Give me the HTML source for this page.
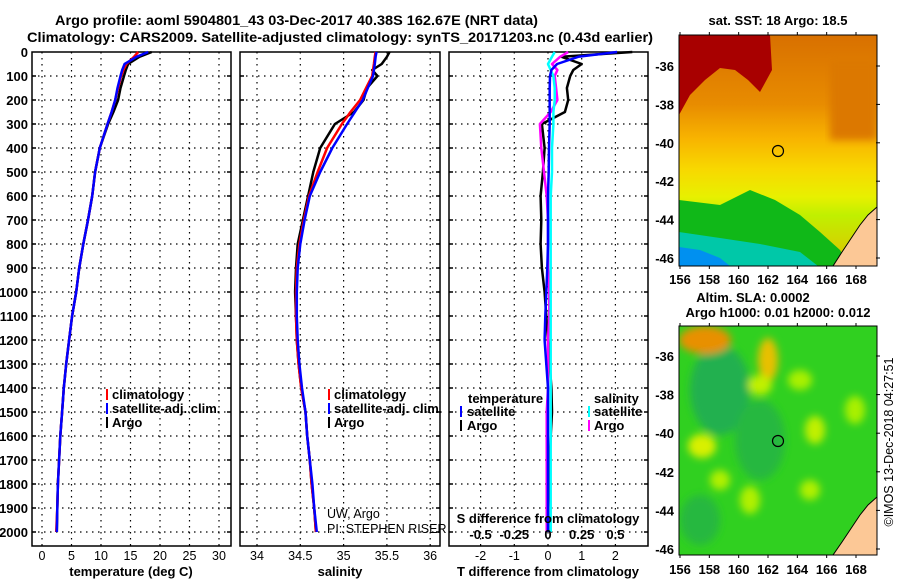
<!DOCTYPE html>
<html><head><meta charset="utf-8"><style>
html,body{margin:0;padding:0;background:#fff;}
svg{display:block;font-family:"Liberation Sans",Arial,sans-serif;}
.b{font-weight:bold;font-size:13px;}
.n{font-size:12.5px;}
.t{font-weight:bold;font-size:14px;}
</style></head><body>
<svg id="fig" width="900" height="580" viewBox="0 0 900 580" xmlns="http://www.w3.org/2000/svg">
<text class="t" x="55" y="25" textLength="483" lengthAdjust="spacingAndGlyphs">Argo profile: aoml 5904801_43 03-Dec-2017 40.38S 162.67E (NRT data)</text>
<text class="t" x="27" y="42" textLength="626" lengthAdjust="spacingAndGlyphs">Climatology: CARS2009. Satellite-adjusted climatology: synTS_20171203.nc (0.43d earlier)</text>
<g id="grids"></g>
<g id="series"></g>
<g id="labels"></g>

<g class="b">
<rect x="106" y="389" width="2" height="11" fill="#f00"/><text x="112" y="399">climatology</text>
<rect x="106" y="403" width="2" height="11" fill="#00f"/><text x="112" y="413">satellite-adj. clim.</text>
<rect x="106" y="417" width="2" height="11" fill="#000"/><text x="112" y="427">Argo</text>
</g>
<g class="b">
<rect x="328" y="389" width="2" height="11" fill="#f00"/><text x="334" y="399">climatology</text>
<rect x="328" y="403" width="2" height="11" fill="#00f"/><text x="334" y="413">satellite-adj. clim.</text>
<rect x="328" y="417" width="2" height="11" fill="#000"/><text x="334" y="427">Argo</text>
</g>
<g class="b">
<text x="468" y="403">temperature</text><text x="594" y="403">salinity</text>
<rect x="460" y="406" width="2" height="11" fill="#00f"/><text x="467" y="416">satellite</text>
<rect x="460" y="420" width="2" height="11" fill="#000"/><text x="467" y="430">Argo</text>
<rect x="588" y="406" width="2" height="11" fill="#0ff"/><text x="594" y="416">satellite</text>
<rect x="588" y="420" width="2" height="11" fill="#f0f"/><text x="594" y="430">Argo</text>
</g>
<text class="n" x="327" y="518">UW, Argo</text>
<text class="n" x="327" y="533">PI: STEPHEN RISER</text>

<text class="b" x="778" y="25" text-anchor="middle">sat. SST: 18 Argo: 18.5</text>
<defs>
<linearGradient id="sstg" x1="0" y1="0" x2="0" y2="1">
<stop offset="0" stop-color="#d87000"/><stop offset="0.3" stop-color="#e88c00"/>
<stop offset="0.45" stop-color="#f8b400"/><stop offset="0.58" stop-color="#f8d800"/>
<stop offset="0.7" stop-color="#e8f000"/><stop offset="0.78" stop-color="#c0f000"/><stop offset="1" stop-color="#e0c000"/>
</linearGradient>
<clipPath id="c1"><rect x="679" y="35" width="198" height="231"/></clipPath>
<clipPath id="c2"><rect x="679" y="326" width="198" height="229"/></clipPath>
<filter id="bl"><feGaussianBlur stdDeviation="4"/></filter>
</defs>
<g clip-path="url(#c1)">
<rect x="679" y="35" width="198" height="231" fill="url(#sstg)"/>
<rect x="830" y="60" width="47" height="80" fill="#dc7800" filter="url(#bl)"/>
<polygon points="679,35 770,35 772,70 760,92 748,80 735,70 720,68 705,80 690,95 679,115" fill="#a80000"/>
<polygon points="679,200 720,205 750,190 775,200 800,215 820,232 840,250 850,266 679,266" fill="#10b818"/>
<polygon points="679,232 720,238 760,244 800,252 818,266 679,266" fill="#00c8a8"/>
<polygon points="679,247 700,250 720,258 730,266 679,266" fill="#0090f0"/>
<polygon points="877,207 868,215 860,225 850,240 842,252 833,266 877,266" fill="#fcc896" stroke="#000" stroke-width="1"/>
<circle cx="778" cy="151" r="5.5" fill="none" stroke="#000" stroke-width="1.2"/>
</g>
<rect x="679" y="35" width="198" height="231" fill="none" stroke="#000"/>

<text class="b" x="753" y="302" text-anchor="middle">Altim. SLA: 0.0002</text>
<text class="b" x="778" y="317" text-anchor="middle">Argo h1000: 0.01 h2000: 0.012</text>
<g clip-path="url(#c2)">
<rect x="679" y="326" width="198" height="229" fill="#30d020"/>
<g filter="url(#bl)">
<ellipse cx="720" cy="390" rx="30" ry="45" fill="#20b050"/>
<ellipse cx="760" cy="440" rx="25" ry="40" fill="#28b840"/>
<ellipse cx="700" cy="520" rx="20" ry="25" fill="#28b840"/>
<ellipse cx="705" cy="340" rx="26" ry="14" fill="#e89000"/>
<ellipse cx="768" cy="360" rx="10" ry="22" fill="#e8c000"/>
<ellipse cx="702" cy="446" rx="14" ry="12" fill="#d8f000"/>
<ellipse cx="760" cy="385" rx="12" ry="10" fill="#c0f000"/>
<ellipse cx="815" cy="430" rx="10" ry="14" fill="#c0f000"/>
<ellipse cx="720" cy="480" rx="10" ry="10" fill="#b0f000"/>
<ellipse cx="750" cy="500" rx="10" ry="14" fill="#b0f000"/>
<ellipse cx="810" cy="490" rx="10" ry="10" fill="#b0f000"/>
<ellipse cx="800" cy="380" rx="12" ry="10" fill="#a8f000"/>
<ellipse cx="855" cy="410" rx="10" ry="14" fill="#a8f000"/>
</g>
<polygon points="877,497 868,505 860,515 850,530 842,542 833,555 877,555" fill="#fcc896" stroke="#000" stroke-width="1"/>
<circle cx="778" cy="441" r="5.5" fill="none" stroke="#000" stroke-width="1.2"/>
</g>
<rect x="679" y="326" width="198" height="229" fill="none" stroke="#000"/>
<g id="maplabels"></g>
<text class="n" transform="translate(893,442) rotate(-90)" text-anchor="middle">©IMOS 13-Dec-2018 04:27:51</text>
</svg>
<script>
const depthTicks=[0,100,200,300,400,500,600,700,800,900,1000,1100,1200,1300,1400,1500,1600,1700,1800,1900,2000];
const tempTicks=[0,5,10,15,20,25,30];
const salTicks=[34,34.5,35,35.5,36];
const diffTTicks=[-2,-1,0,1,2];
const diffSTicks=[-0.5,-0.25,0,0.25,0.5];
const depths=[0,20,50,75,100,150,200,250,300,400,500,600,700,800,900,1000,1100,1200,1300,1400,1500,1600,1700,1800,1900,2000];
const tempArgo=[18.6,16.5,14.6,14.2,13.9,13.3,12.9,12.1,11.2,9.8,9.0,8.5,7.8,7.0,6.3,5.8,5.1,4.6,4.1,3.7,3.4,3.1,2.9,2.7,2.6,2.5];
const tempClim=[16.3,15.6,14.3,13.8,13.4,12.9,12.4,11.8,11.1,9.8,9.0,8.5,7.8,7.0,6.3,5.8,5.1,4.6,4.1,3.7,3.4,3.1,2.9,2.7,2.6,2.4];
const tempSat=[18.0,16.0,14.0,13.6,13.3,12.8,12.4,11.8,11.1,9.8,9.0,8.5,7.8,7.0,6.3,5.8,5.1,4.6,4.1,3.7,3.4,3.1,2.9,2.7,2.6,2.5];
const salArgo=[35.53,35.5,35.44,35.33,35.39,35.27,35.23,35.12,34.9,34.73,34.65,34.59,34.53,34.47,34.45,34.44,34.45,34.46,34.48,34.51,34.56,34.58,34.61,34.63,34.66,34.68];
const salClim=[35.37,35.36,35.35,35.34,35.33,35.26,35.19,35.08,34.98,34.81,34.7,34.6,34.54,34.49,34.46,34.45,34.45,34.46,34.48,34.51,34.56,34.58,34.61,34.63,34.66,34.68];
const salSat=[35.38,35.37,35.36,35.35,35.34,35.28,35.22,35.13,35.04,34.87,34.73,34.61,34.55,34.5,34.47,34.46,34.46,34.47,34.49,34.52,34.56,34.58,34.61,34.64,34.66,34.69];
const dTArgo=[2.5,0.4,1.0,0.75,0.66,0.56,0.6,0.5,-0.18,-0.1,-0.15,-0.22,-0.2,-0.22,-0.18,-0.1,-0.05,0.0,0.05,0.1,0.12,0.08,0.05,0.02,0.0,0.0];
const dTSat=[2.05,0.9,0.27,0.1,0.06,0.05,0.05,0.05,0.05,0.03,0.02,0.0,0.0,0.0,-0.02,-0.05,-0.08,-0.1,-0.05,0.0,0.0,0.0,0.0,0.0,0.0,0.0];
const dSArgo=[0.15,0.09,0.03,0.07,0.05,0.06,0.07,0.02,-0.06,-0.05,-0.03,-0.01,0.0,0.0,0.0,0.01,0.01,0.0,0.0,0.0,-0.01,-0.01,-0.01,-0.01,-0.01,-0.01];
const dSSat=[0.05,0.03,0.0,0.02,0.04,0.05,0.05,0.04,0.04,0.03,0.03,0.02,0.02,0.02,0.02,0.02,0.02,0.02,0.02,0.02,0.02,0.02,0.02,0.02,0.02,0.02];
const mapLons=[156,158,160,162,164,166,168];
const mapLats=[-36,-38,-40,-42,-44,-46];

const yD=d=>52+d*0.24;
const xT=t=>42+t*5.9;
const xS=s=>257+(s-34)*86.6;
const xDT=t=>548+t*33.7;
const xDS=s=>548+s*134.8;
const NS='http://www.w3.org/2000/svg';
function mk(tag,attrs,parent){const e=document.createElementNS(NS,tag);for(const k in attrs)e.setAttribute(k,attrs[k]);parent.appendChild(e);return e;}
const grids=document.getElementById('grids'),series=document.getElementById('series'),labels=document.getElementById('labels');
const panels=[{x0:32,x1:231,ticks:tempTicks,f:xT,name:'temperature'},{x0:240,x1:440,ticks:salTicks,f:xS,name:'salinity'},{x0:449,x1:648,ticks:diffTTicks,f:xDT,name:'difference'}];
const Y0=52,Y1=546;
panels.forEach(p=>{
  depthTicks.forEach(d=>{if(d===0)return;
    const l=mk('line',{x1:p.x0,x2:p.x1,y1:yD(d),y2:yD(d),stroke:'#000','stroke-width':1.2,'stroke-dasharray':'1.5,4.5'},grids);
    
    
    mk('line',{x1:p.x0,x2:p.x0+4,y1:yD(d),y2:yD(d),stroke:'#000','stroke-width':1.5},grids);
    mk('line',{x1:p.x1-4,x2:p.x1,y1:yD(d),y2:yD(d),stroke:'#000','stroke-width':1.5},grids);
  });
  p.ticks.forEach(v=>{
    const l=mk('line',{x1:p.f(v),x2:p.f(v),y1:Y0,y2:Y1,stroke:'#000','stroke-width':1.2,'stroke-dasharray':'1.5,4.5'},grids);
    
    
    const t=mk('text',{x:p.f(v),y:560,'text-anchor':'middle','class':'n'},labels);
    t.textContent=String(v);
    
    
  });
  const r=mk('rect',{x:p.x0,y:Y0,width:p.x1-p.x0,height:Y1-Y0,fill:'none',stroke:'#000','stroke-width':1.5},grids);
  
  
});
depthTicks.forEach(d=>{
  const t=mk('text',{x:28,y:yD(d)+5,'text-anchor':'end','class':'b'},labels);
  t.textContent=String(d);
  
  
});
diffSTicks.forEach(v=>{
  const t=mk('text',{x:xDS(v),y:539,'text-anchor':'middle','class':'b'},labels);
  t.textContent=String(v);
  
  
});
[['S difference from climatology',548,523,'s-diff-axis-title'],['temperature (deg C)',131,576,'temperature-axis-title'],['salinity',340,576,'salinity-axis-title'],['T difference from climatology',548,576,'t-diff-axis-title']].forEach(a=>{
  const t=mk('text',{x:a[1],y:a[2],'text-anchor':'middle','class':'b'},labels);
  t.textContent=a[0];
  
  
});
function line(vals,fx,color,name){
  const pts=vals.map((v,i)=>fx(v).toFixed(1)+','+yD(depths[i]).toFixed(1)).join(' ');
  const l=mk('polyline',{points:pts,fill:'none',stroke:color,'stroke-width':2.5,'stroke-linejoin':'round'},series);
  
  
}
line(tempArgo,xT,'#000','temp-argo-line');
line(tempClim,xT,'#f00','temp-clim-line');
line(tempSat,xT,'#00f','temp-sat-line');
line(salArgo,xS,'#000','sal-argo-line');
line(salClim,xS,'#f00','sal-clim-line');
line(salSat,xS,'#00f','sal-sat-line');
line(dTArgo,xDT,'#000','tdiff-argo-line');
line(dSArgo,xDS,'#f0f','sdiff-argo-line');
line(dSSat,xDS,'#0ff','sdiff-sat-line');
line(dTSat,xDT,'#00f','tdiff-sat-line');
const ml=document.getElementById('maplabels');
const lonX=l=>680+(l-156)*176/12;
[[35,266,284],[326,555,574]].forEach((m,k)=>{
  const latY=la=>(k===0?66:356)+(-36-la)*((k===0?192:193)/10);
  mapLons.forEach(l=>{
    const t=mk('text',{x:lonX(l),y:m[2],'text-anchor':'middle','class':'b'},ml);
    t.textContent=String(l);
    
    
    mk('line',{x1:lonX(l),x2:lonX(l),y1:m[0],y2:m[0]-3,stroke:'#000'},ml);
    mk('line',{x1:lonX(l),x2:lonX(l),y1:m[1],y2:m[1]+3,stroke:'#000'},ml);
  });
  mapLats.forEach(la=>{
    const t=mk('text',{x:674,y:latY(la)+5,'text-anchor':'end','class':'b'},ml);
    t.textContent=String(la);
    
    
    mk('line',{x1:876,x2:880,y1:latY(la),y2:latY(la),stroke:'#000'},ml);
  });
});
</script>
</body></html>
